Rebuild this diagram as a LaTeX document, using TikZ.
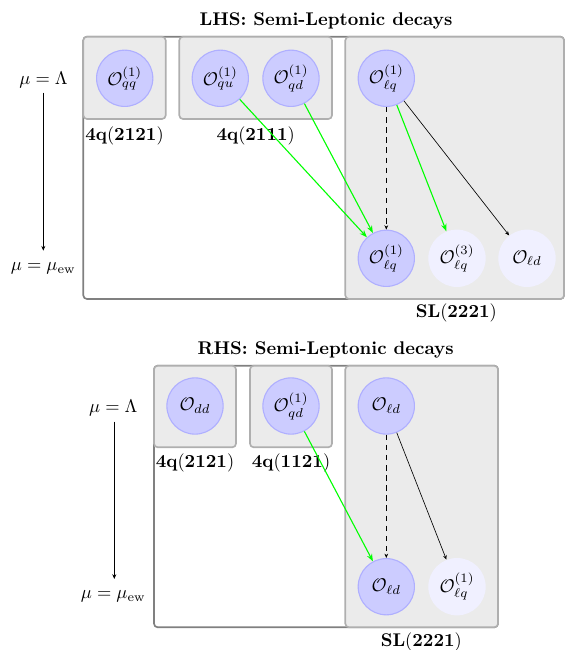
\documentclass[tikz,border=0pt]{standalone}
\usetikzlibrary{arrows.meta}
\definecolor{opfill}{RGB}{204,204,255}
\definecolor{opedge}{RGB}{175,175,255}
\definecolor{oplightfill}{RGB}{240,240,255}
\definecolor{grpfill}{RGB}{235,235,235}
\definecolor{grpedge}{RGB}{175,175,175}
\definecolor{outeredge}{RGB}{128,128,128}
\definecolor{arrgreen}{RGB}{0,255,0}
\begin{document}
\begin{tikzpicture}[x=0.544pt,y=-0.544pt,
  op/.style={circle,minimum size=30.6pt,inner sep=0pt,fill=opfill,draw=opedge,line width=0.6pt},
  oplt/.style={circle,minimum size=31.2pt,inner sep=0pt,fill=oplightfill},
  grpbox/.style={draw=grpedge,fill=grpfill,line width=0.9pt,rounded corners=2pt},
  outerbox/.style={draw=outeredge,line width=0.9pt,rounded corners=2pt},
  titletext/.style={font=\bfseries},
  garrow/.style={draw=arrgreen,line width=0.6pt,-{Stealth[length=4pt,width=3pt]}},
  barrow/.style={draw=black,line width=0.35pt,-{Stealth[length=2.4pt,width=2pt]}},
  darrow/.style={barrow,dashed,dash pattern=on 3pt off 2.5pt},
  axisarrow/.style={draw=black,line width=0.4pt,-{Stealth[length=2.6pt,width=2.2pt]}}
]
\useasboundingbox (0,0) rectangle (565,650);

% ---------------- Panel 1 (LHS) ----------------
\node[titletext] (t1) at (326,21) {LHS: Semi-Leptonic decays};
\draw[outerbox] (83.3,36.7) rectangle (564,299);
\draw[grpbox] (83.3,36.7) rectangle (165.7,119);
\draw[grpbox] (179.3,36.7) rectangle (332,119);
\draw[grpbox] (345.3,36.7) rectangle (564,299);

\node[op] (qq) at (124.7,78.3) {$\mathcal{O}_{qq}^{(1)}$};
\node[op] (qu) at (220.3,78.3) {$\mathcal{O}_{qu}^{(1)}$};
\node[op] (qd) at (291,78.3) {$\mathcal{O}_{qd}^{(1)}$};
\node[op] (lqA) at (386.3,78.3) {$\mathcal{O}_{\ell q}^{(1)}$};
\node[op] (lqB) at (386.3,258.3) {$\mathcal{O}_{\ell q}^{(1)}$};
\node[oplt] (lqthreeB) at (457,258.3) {$\mathcal{O}_{\ell q}^{(3)}$};
\node[oplt] (ldB) at (527,258.3) {$\mathcal{O}_{\ell d}$};

\node (la) at (124.5,136) {$\mathbf{4q}(\mathbf{2121})$};
\node (lb) at (255.7,136) {$\mathbf{4q}(\mathbf{2111})$};
\node (lc) at (456.3,313.3) {$\mathbf{SL}(\mathbf{2221})$};

\node (muLa) at (43.5,80) {$\mu=\Lambda$};
\node (muEa) at (43.3,268.3) {$\mu=\mu_{\mathrm{ew}}$};
\coordinate (axAs) at (43.3,92.7);
\coordinate (axAe) at (43.3,250.7);
\draw[axisarrow] (axAs) -- (axAe);

\draw[garrow] (qu) -- (lqB);
\draw[garrow] (qd) -- (lqB);
\draw[darrow] (lqA) -- (lqB);
\draw[garrow] (lqA) -- (lqthreeB);
\draw[barrow] (lqA) -- (ldB);

% ---------------- Panel 2 (RHS) ----------------
\node[titletext] (t2) at (325.7,350) {RHS: Semi-Leptonic decays};
\draw[outerbox] (154,365.7) rectangle (498,627.3);
\draw[grpbox] (154,365.7) rectangle (236,447.3);
\draw[grpbox] (250,365.7) rectangle (332,447.3);
\draw[grpbox] (345.3,365.7) rectangle (498,627.3);

\node[op] (dd) at (195,406) {$\mathcal{O}_{dd}$};
\node[op] (qdb) at (291,406) {$\mathcal{O}_{qd}^{(1)}$};
\node[op] (ldA) at (386.3,406) {$\mathcal{O}_{\ell d}$};
\node[op] (ldC) at (386.3,586.7) {$\mathcal{O}_{\ell d}$};
\node[oplt] (lqC) at (457,586.7) {$\mathcal{O}_{\ell q}^{(1)}$};

\node (ld) at (195,463.3) {$\mathbf{4q}(\mathbf{2121})$};
\node (le) at (291,463.3) {$\mathbf{4q}(\mathbf{1121})$};
\node (lf) at (421.3,641.7) {$\mathbf{SL}(\mathbf{2221})$};

\node (muLb) at (113.3,407.7) {$\mu=\Lambda$};
\node (muEb) at (113.3,596.7) {$\mu=\mu_{\mathrm{ew}}$};
\coordinate (axBs) at (114.3,421.7);
\coordinate (axBe) at (114.3,579);
\draw[axisarrow] (axBs) -- (axBe);

\draw[garrow] (qdb) -- (ldC);
\draw[darrow] (ldA) -- (ldC);
\draw[barrow] (ldA) -- (lqC);
\end{tikzpicture}
\end{document}
